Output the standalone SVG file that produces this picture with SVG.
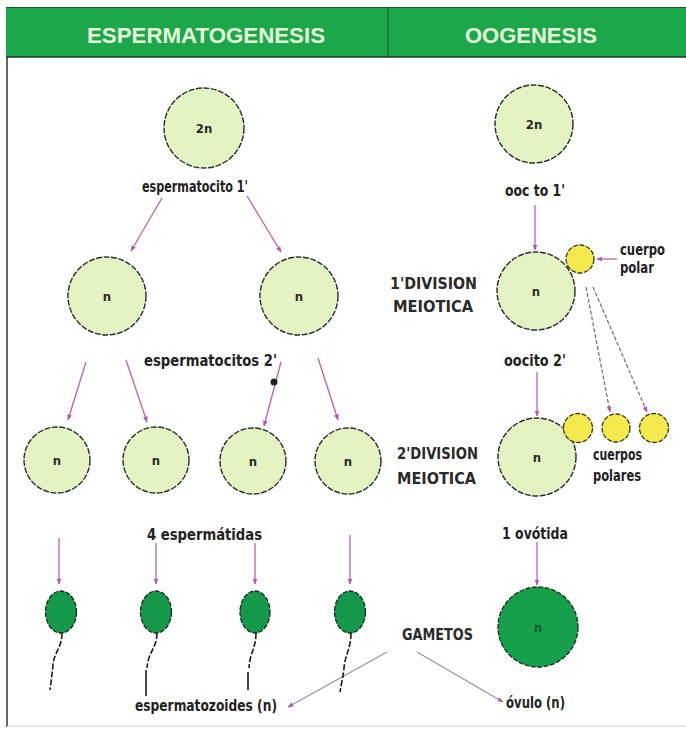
<svg xmlns="http://www.w3.org/2000/svg" width="686" height="733" viewBox="0 0 686 733">
<defs>
<marker id="ah" viewBox="0 0 10 10" refX="9" refY="5" markerWidth="6" markerHeight="6" orient="auto" markerUnits="userSpaceOnUse">
<path d="M0,1 L10,5 L0,9 Z" fill="#b452b0"/>
</marker>
<marker id="ahg" viewBox="0 0 10 10" refX="9" refY="5" markerWidth="6" markerHeight="6" orient="auto" markerUnits="userSpaceOnUse">
<path d="M0,1 L10,5 L0,9 Z" fill="#9b6aa6"/>
</marker>
<style>
.cell{fill:#e4f3c2;stroke:#2a2a2a;stroke-width:1.4;stroke-dasharray:6 1.5}
.polar{fill:#f4ea4e;stroke:#3a3a1a;stroke-width:1.3;stroke-dasharray:5 1.5}
.head{fill:#14984a;stroke:#1a2a1a;stroke-width:1.3;stroke-dasharray:5 1.5}
.green{fill:#17a04c;stroke:#1a2a1a;stroke-width:1.3;stroke-dasharray:5 1.5}
.tail{fill:none;stroke:#1a1a1a;stroke-width:1.6;stroke-dasharray:6 2}
.tails{fill:none;stroke:#1a1a1a;stroke-width:1.6}
.arr{fill:none;stroke:#b860b4;stroke-width:1.3;marker-end:url(#ah)}
.darr{fill:none;stroke:#6a6a7a;stroke-width:1.2;stroke-dasharray:4 2;marker-end:url(#ah)}
.garr{fill:none;stroke:#a08cae;stroke-width:1.3;marker-end:url(#ahg)}
.lbl{font-family:"DejaVu Sans Condensed","Liberation Sans Narrow","Liberation Sans",sans-serif;font-weight:bold;fill:#222;font-size:15px}
.cap{font-family:"DejaVu Sans Condensed","Liberation Sans Narrow","Liberation Sans",sans-serif;font-weight:bold;fill:#2a2a2a;font-size:16px}
.in{font-family:"DejaVu Sans Condensed","Liberation Sans Narrow","Liberation Sans",sans-serif;font-weight:bold;fill:#2a2a2a;font-size:13px;text-anchor:middle}
.hdr{font-family:"Liberation Sans","DejaVu Sans",sans-serif;font-weight:bold;fill:#e6f8da;font-size:22px}
</style>
</defs>
<rect x="0" y="0" width="686" height="733" fill="#ffffff"/>
<g id="header">
<rect x="6" y="7" width="680" height="50" fill="#1ca84a"/>
<line x1="6" y1="7.5" x2="686" y2="7.5" stroke="#1a5a2a" stroke-width="1"/>
<line x1="6" y1="57" x2="686" y2="57" stroke="#1d3a22" stroke-width="1.5"/>
<line x1="388" y1="7" x2="388" y2="57" stroke="#1d4a26" stroke-width="1"/>
<text class="hdr" x="87" y="43" textLength="238" lengthAdjust="spacingAndGlyphs">ESPERMATOGENESIS</text>
<text class="hdr" x="465" y="43" textLength="132" lengthAdjust="spacingAndGlyphs">OOGENESIS</text>
</g>
<g id="frame">
<line x1="7" y1="57" x2="7" y2="727" stroke="#333" stroke-width="1.5"/>
<line x1="7" y1="726" x2="686" y2="726" stroke="#cfcfcf" stroke-width="1"/>
</g>
<g id="connectors">
<line class="arr" x1="162" y1="198" x2="131" y2="251"/>
<line class="arr" x1="247" y1="196" x2="281" y2="252"/>
<line class="arr" x1="86" y1="362" x2="68" y2="420"/>
<line class="arr" x1="126" y1="360" x2="147" y2="422"/>
<line class="arr" x1="281" y1="362" x2="264" y2="426"/>
<line class="arr" x1="318" y1="358" x2="338" y2="420"/>
<line class="arr" x1="59" y1="538" x2="59" y2="584"/>
<line class="arr" x1="156" y1="543" x2="156" y2="584"/>
<line class="arr" x1="255" y1="543" x2="255" y2="584"/>
<line class="arr" x1="350" y1="535" x2="350" y2="584"/>
<line class="arr" x1="535" y1="205" x2="535" y2="250"/>
<line class="arr" x1="617" y1="259" x2="597" y2="259"/>
<line class="darr" x1="586" y1="287" x2="610" y2="412"/>
<line class="darr" x1="593" y1="287" x2="647" y2="412"/>
<line class="arr" x1="537" y1="372" x2="537" y2="416"/>
<line class="arr" x1="537" y1="542" x2="537" y2="585"/>
<line class="garr" x1="387" y1="652" x2="288" y2="707"/>
<line class="garr" x1="417" y1="652" x2="503" y2="702"/>
<circle cx="274" cy="382" r="3.5" fill="#222"/>
</g>
<g id="espermatocito1">
<circle class="cell" cx="204" cy="128" r="40"/>
<text class="in" x="204" y="133">2n</text>
<text class="lbl" x="142" y="192" textLength="106" lengthAdjust="spacingAndGlyphs">espermatocito 1'</text>
</g>
<g id="espermatocito2a">
<circle class="cell" cx="107" cy="296" r="39"/>
<text class="in" x="107" y="301">n</text>
</g>
<g id="espermatocito2b">
<circle class="cell" cx="299" cy="296" r="39"/>
<text class="in" x="299" y="301">n</text>
</g>
<text class="lbl" x="144" y="366" textLength="133" lengthAdjust="spacingAndGlyphs">espermatocitos 2'</text>
<g id="espermatida1"><circle class="cell" cx="57" cy="460" r="33"/><text class="in" x="57" y="465">n</text></g>
<g id="espermatida2"><circle class="cell" cx="156" cy="460" r="33"/><text class="in" x="156" y="465">n</text></g>
<g id="espermatida3"><circle class="cell" cx="253" cy="461" r="33"/><text class="in" x="253" y="466">n</text></g>
<g id="espermatida4"><circle class="cell" cx="348" cy="461" r="33"/><text class="in" x="348" y="466">n</text></g>
<text class="lbl" x="147" y="540" textLength="115" lengthAdjust="spacingAndGlyphs">4 espermátidas</text>
<g id="espermatozoide1">
<ellipse class="head" cx="61" cy="612" rx="15.5" ry="21"/>
<path class="tail" d="M62,633 C62,648 54,652 53,665 C52,675 51,682 50,690"/>
</g>
<g id="espermatozoide2">
<ellipse class="head" cx="156" cy="612" rx="15.5" ry="21"/>
<path class="tail" d="M157,633 C157,648 148,652 147,668"/>
<path class="tails" d="M146,670 L146,696"/>
</g>
<g id="espermatozoide3">
<ellipse class="head" cx="255" cy="612" rx="15" ry="21"/>
<path class="tail" d="M256,633 C256,648 250,652 249,668"/>
<path class="tails" d="M248,672 L248,690"/>
</g>
<g id="espermatozoide4">
<ellipse class="head" cx="350" cy="612" rx="15.5" ry="21"/>
<path class="tail" d="M351,633 C351,648 345,655 344,668 C343,678 341,685 340,692"/>
</g>
<text class="lbl" x="135" y="711" textLength="142" lengthAdjust="spacingAndGlyphs">espermatozoides (n)</text>
<text class="cap" x="402" y="640" textLength="71" lengthAdjust="spacingAndGlyphs">GAMETOS</text>
<g id="oocito1">
<circle class="cell" cx="534" cy="124" r="39"/>
<text class="in" x="534" y="129">2n</text>
<text class="lbl" x="505" y="196" textLength="60" lengthAdjust="spacingAndGlyphs">ooc to 1'</text>
</g>
<g id="division1">
<text class="cap" x="390" y="289" textLength="87" lengthAdjust="spacingAndGlyphs">1'DIVISION</text>
<text class="cap" x="393" y="312" textLength="80" lengthAdjust="spacingAndGlyphs">MEIOTICA</text>
</g>
<g id="oocito2">
<circle class="cell" cx="536" cy="291" r="39"/>
<text class="in" x="536" y="296">n</text>
</g>
<g id="cuerpopolar1">
<circle class="polar" cx="580" cy="259" r="14"/>
<text class="lbl" x="620" y="255" textLength="45" lengthAdjust="spacingAndGlyphs">cuerpo</text>
<text class="lbl" x="620" y="273" textLength="34" lengthAdjust="spacingAndGlyphs">polar</text>
</g>
<text class="lbl" x="504" y="366" textLength="62" lengthAdjust="spacingAndGlyphs">oocito 2'</text>
<g id="division2">
<text class="cap" x="397" y="459" textLength="81" lengthAdjust="spacingAndGlyphs">2'DIVISION</text>
<text class="cap" x="397" y="484" textLength="79" lengthAdjust="spacingAndGlyphs">MEIOTICA</text>
</g>
<g id="ovotida">
<circle class="cell" cx="537" cy="457" r="39"/>
<text class="in" x="537" y="462">n</text>
</g>
<g id="cuerpospolares">
<circle class="polar" cx="578" cy="428" r="14.5"/>
<circle class="polar" cx="616" cy="428" r="14"/>
<circle class="polar" cx="654" cy="428" r="14.5"/>
<text class="lbl" x="593" y="460" textLength="49" lengthAdjust="spacingAndGlyphs">cuerpos</text>
<text class="lbl" x="593" y="481" textLength="48" lengthAdjust="spacingAndGlyphs">polares</text>
</g>
<text class="lbl" x="502" y="539" textLength="66" lengthAdjust="spacingAndGlyphs">1 ovótida</text>
<g id="ovulo">
<circle class="green" cx="538" cy="627" r="40"/>
<text class="in" x="538" y="632" style="fill:#0f5a2a">n</text>
</g>
<text class="lbl" x="506" y="708" textLength="59" lengthAdjust="spacingAndGlyphs">óvulo (n)</text>
</svg>
